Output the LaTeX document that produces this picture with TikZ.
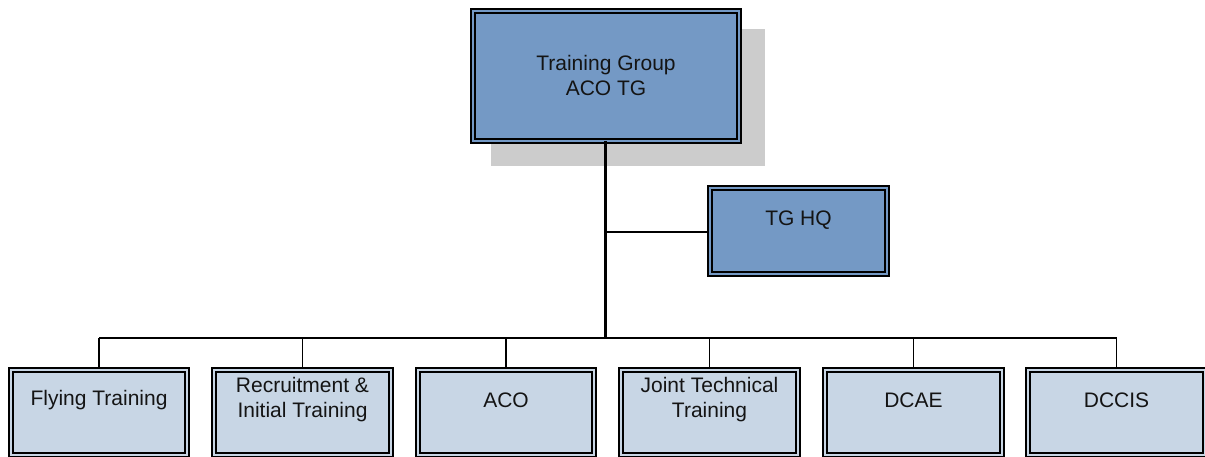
\documentclass[tikz,border=0pt]{standalone}
\usepackage{fontspec}
\setmainfont{Liberation Sans}
\definecolor{darkfill}{RGB}{116,153,197}
\definecolor{lightfill}{RGB}{200,214,229}
\definecolor{shadowgray}{RGB}{204,204,204}
\begin{document}
\begin{tikzpicture}[x=1pt,y=-1pt,
  dbox/.style={draw=black, line width=1.7pt, double distance=2.3pt, rectangle, inner sep=0pt},
  topbox/.style={dbox, fill=darkfill, double=darkfill, minimum width=266.5pt, minimum height=130.5pt},
  hqbox/.style={dbox, fill=darkfill, double=darkfill, minimum width=177.5pt, minimum height=86.5pt},
  unitbox/.style={dbox, fill=lightfill, double=lightfill, minimum width=176.5pt, minimum height=85.5pt},
  lbl/.style={font=\fontsize{21}{25}\selectfont, align=center, text=black!92, inner sep=0pt},
  trunk/.style={line width=3pt},
  branch/.style={line width=1.6pt}]
\useasboundingbox (0,0) rectangle (1205,457);
\clip (0,0) rectangle (1205,457);
% shadow
\fill[shadowgray] (491,29) rectangle (765,166);
% top
\node[topbox] (tg) at (606,76) {};
\node[lbl] (tgl) at (606,75) {Training Group\\ACO TG};
% HQ
\node[hqbox] (hq) at (798.5,231) {};
\node[lbl] (hql) at (798.5,220) {TG HQ};
% bus
\coordinate (bus) at (605,338);
\coordinate (hqj) at (605,232);
\draw[trunk] (605,141.5) -- (bus);
\draw[branch] (hqj) -- (hq.west |- hqj);
% bottom boxes
\foreach \n/\x/\t in {u1/99/{Flying Training},
                      u2/302.5/{Recruitment \&\\Initial Training},
                      u3/506/{ACO},
                      u4/709.5/{Joint Technical\\Training},
                      u5/913.5/{DCAE},
                      u6/1116.5/{DCCIS}}{
  \node[unitbox] (\n) at (\x,412.5) {};
  \node[lbl] (\n l) at (\x,400) {\t};
  \coordinate (\n j) at (\x,338);
  \draw[branch] (\n j) -- (\n.north);
}
\draw[branch] (u1j) -- (u6j);
\end{tikzpicture}
\end{document}
